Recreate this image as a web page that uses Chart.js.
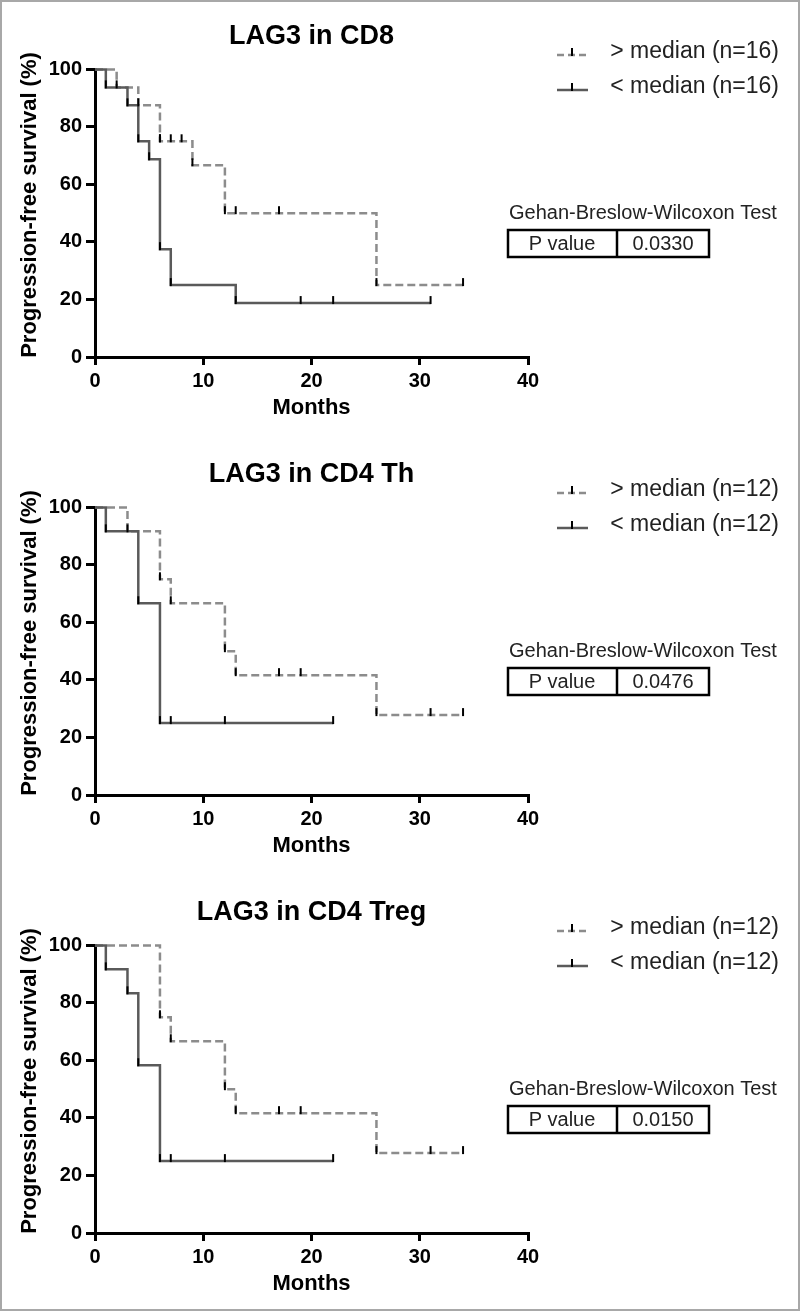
<!DOCTYPE html>
<html>
<head>
<meta charset="utf-8">
<script src="https://cdn.jsdelivr.net/npm/chart.js@4.4.1/dist/chart.umd.min.js"></script>
<style>
  body { margin: 0; background: #fff; }
  #page { position: relative; width: 800px; height: 1311px; background: #fff; }
  #page canvas { position: absolute; left: 0; }
  #frame { position: absolute; left: 0; top: 0; width: 800px; height: 1311px; box-sizing: border-box; border: 2px solid #a8a8a8; pointer-events: none; }
</style>
</head>
<body>
<div id="page">
  <canvas id="km1" width="800" height="435" style="top:0px"></canvas>
  <canvas id="km2" width="800" height="435" style="top:438px"></canvas>
  <canvas id="km3" width="800" height="435" style="top:876px"></canvas>
  <div id="frame"></div>
</div>
<script>
// LAG3 in CD8
const cd8HiMonths = [0, 2, 4, 6, 9, 12, 26, 34];
const cd8HiSurv = [100, 93.75, 87.5, 75, 66.67, 50, 25, 25];
const cd8HiCensor = [6, 7, 8, 13, 17, 34];
const cd8LoMonths = [0, 1, 3, 4, 5, 6, 7, 13, 31];
const cd8LoSurv = [100, 93.75, 87.5, 75, 68.75, 37.5, 25, 18.75, 18.75];
const cd8LoCensor = [19, 22, 31];

// LAG3 in CD4 Th
const thHiMonths = [0, 3, 6, 7, 12, 13, 26, 34];
const thHiSurv = [100, 91.67, 75, 66.67, 50, 41.67, 27.78, 27.78];
const thHiCensor = [17, 19, 31, 34];
const thLoMonths = [0, 1, 4, 6, 22];
const thLoSurv = [100, 91.67, 66.67, 25, 25];
const thLoCensor = [7, 12, 22];

// LAG3 in CD4 Treg
const tregHiMonths = [0, 6, 7, 12, 13, 26, 34];
const tregHiSurv = [100, 75, 66.67, 50, 41.67, 27.78, 27.78];
const tregHiCensor = [17, 19, 31, 34];
const tregLoMonths = [0, 1, 3, 4, 6, 22];
const tregLoSurv = [100, 91.67, 83.33, 58.33, 25, 25];
const tregLoCensor = [7, 12, 22];

const panelTitles = ['LAG3 in CD8', 'LAG3 in CD4 Th', 'LAG3 in CD4 Treg'];
const groupSizes = [16, 12, 12];
const pValues = ['0.0330', '0.0476', '0.0150'];
const xTicks = [0, 10, 20, 30, 40];
const yTicks = [0, 20, 40, 60, 80, 100];

const FONT = '"Liberation Sans", Arial, sans-serif';
const DASH_COLOR = '#8c8c8c';
const SOLID_COLOR = '#5a5a5a';

function toPoints(months, surv) {
  return months.map((m, i) => ({ x: m, y: surv[i] }));
}

function survAt(months, surv, t) {
  let v = surv[0];
  for (let i = 0; i < months.length; i++) {
    if (months[i] <= t) v = surv[i];
  }
  return v;
}

// censor ticks, legend, test box and y title
const kmExtras = {
  id: 'kmExtras',
  afterDatasetsDraw(chart, args, opts) {
    const ctx = chart.ctx;
    const xs = chart.scales.x, ys = chart.scales.y;
    ctx.save();
    ctx.strokeStyle = '#000';
    ctx.lineWidth = 2;
    chart.data.datasets.forEach(ds => {
      const marks = [];
      for (let i = 1; i < ds.months.length; i++) {
        if (ds.surv[i] < ds.surv[i - 1]) marks.push(ds.months[i]);
      }
      ds.censor.forEach(t => marks.push(t));
      marks.forEach(t => {
        const px = xs.getPixelForValue(t);
        const py = ys.getPixelForValue(survAt(ds.months, ds.surv, t));
        ctx.beginPath();
        ctx.moveTo(px, py + 1);
        ctx.lineTo(px, py - 7);
        ctx.stroke();
      });
    });
    ctx.restore();
  },
  afterDraw(chart, args, opts) {
    const ctx = chart.ctx;
    ctx.save();
    // y axis title
    ctx.translate(30, 205);
    ctx.rotate(-Math.PI / 2);
    ctx.font = 'bold 22px ' + FONT;
    ctx.fillStyle = '#000';
    ctx.textAlign = 'center';
    ctx.textBaseline = 'middle';
    ctx.fillText('Progression-free survival (%)', 0, 0);
    ctx.restore();

    ctx.save();
    // legend
    const rows = [
      { y: 52, text: '> median (n=' + opts.n + ')', dash: true },
      { y: 87, text: '< median (n=' + opts.n + ')', dash: false }
    ];
    rows.forEach(r => {
      const ly = r.y + 3;
      ctx.lineWidth = 2.5;
      ctx.strokeStyle = r.dash ? DASH_COLOR : SOLID_COLOR;
      ctx.setLineDash(r.dash ? [7, 4] : []);
      ctx.beginPath();
      ctx.moveTo(557, ly);
      ctx.lineTo(588, ly);
      ctx.stroke();
      ctx.setLineDash([]);
      ctx.strokeStyle = '#000';
      ctx.lineWidth = 2;
      ctx.beginPath();
      ctx.moveTo(572, ly + 1);
      ctx.lineTo(572, ly - 7);
      ctx.stroke();
      ctx.font = '23px ' + FONT;
      ctx.fillStyle = '#222';
      ctx.textAlign = 'right';
      ctx.textBaseline = 'middle';
      ctx.fillText(r.text, 779, r.y);
    });

    // test name and p value table
    ctx.font = '20px ' + FONT;
    ctx.fillStyle = '#222';
    ctx.textAlign = 'left';
    ctx.textBaseline = 'middle';
    ctx.fillText('Gehan-Breslow-Wilcoxon Test', 509, 213);
    ctx.strokeStyle = '#000';
    ctx.lineWidth = 2.5;
    ctx.strokeRect(508, 230, 201, 27);
    ctx.beginPath();
    ctx.moveTo(617, 230);
    ctx.lineTo(617, 257);
    ctx.stroke();
    ctx.textAlign = 'center';
    ctx.fillText('P value', 562, 244);
    ctx.fillText(opts.p, 663, 244);
    ctx.restore();
  }
};

function makeChart(id, title, hiMonths, hiSurv, hiCensor, loMonths, loSurv, loCensor, n, p) {
  const canvas = document.getElementById(id);
  return new Chart(canvas, {
    type: 'line',
    data: {
      datasets: [
        {
          label: '< median (n=' + n + ')',
          data: toPoints(loMonths, loSurv),
          months: loMonths, surv: loSurv, censor: loCensor,
          borderColor: SOLID_COLOR,
          borderWidth: 2.5,
          stepped: 'before',
          pointRadius: 0,
          fill: false,
          clip: false
        },
        {
          label: '> median (n=' + n + ')',
          data: toPoints(hiMonths, hiSurv),
          months: hiMonths, surv: hiSurv, censor: hiCensor,
          borderColor: DASH_COLOR,
          borderWidth: 2.5,
          borderDash: [8, 4],
          stepped: 'before',
          pointRadius: 0,
          fill: false,
          clip: false
        }
      ]
    },
    options: {
      responsive: false,
      animation: false,
      layout: { padding: { top: 0, left: 0, right: 272, bottom: 0 } },
      plugins: {
        legend: { display: false },
        tooltip: { enabled: false },
        title: {
          display: true,
          text: title,
          fullSize: false,
          color: '#000',
          font: { family: FONT, size: 27, weight: 'bold' },
          padding: { top: 20, bottom: 17 }
        },
        kmExtras: { n: n, p: p }
      },
      scales: {
        x: {
          type: 'linear',
          min: 0,
          max: 40,
          afterBuildTicks: s => { s.ticks = xTicks.map(v => ({ value: v })); },
          afterFit: s => { s.height = 78; },
          ticks: { color: '#000', padding: 4, font: { family: FONT, size: 20, weight: 'bold' } },
          grid: { drawOnChartArea: false, drawTicks: true, tickLength: 8, color: '#000', lineWidth: 3 },
          border: { color: '#000', width: 3 },
          title: {
            display: true,
            text: 'Months',
            color: '#000',
            font: { family: FONT, size: 22, weight: 'bold' },
            padding: { top: 0, bottom: 14 }
          }
        },
        y: {
          type: 'linear',
          min: 0,
          max: 100,
          afterBuildTicks: s => { s.ticks = yTicks.map(v => ({ value: v })); },
          afterFit: s => { s.width = 95; },
          ticks: { color: '#000', padding: 4, font: { family: FONT, size: 20, weight: 'bold' } },
          grid: { drawOnChartArea: false, drawTicks: true, tickLength: 9, color: '#000', lineWidth: 3 },
          border: { color: '#000', width: 3 }
        }
      }
    },
    plugins: [kmExtras]
  });
}

makeChart('km1', panelTitles[0], cd8HiMonths, cd8HiSurv, cd8HiCensor, cd8LoMonths, cd8LoSurv, cd8LoCensor, groupSizes[0], pValues[0]);
makeChart('km2', panelTitles[1], thHiMonths, thHiSurv, thHiCensor, thLoMonths, thLoSurv, thLoCensor, groupSizes[1], pValues[1]);
makeChart('km3', panelTitles[2], tregHiMonths, tregHiSurv, tregHiCensor, tregLoMonths, tregLoSurv, tregLoCensor, groupSizes[2], pValues[2]);
</script>
</body>
</html>
